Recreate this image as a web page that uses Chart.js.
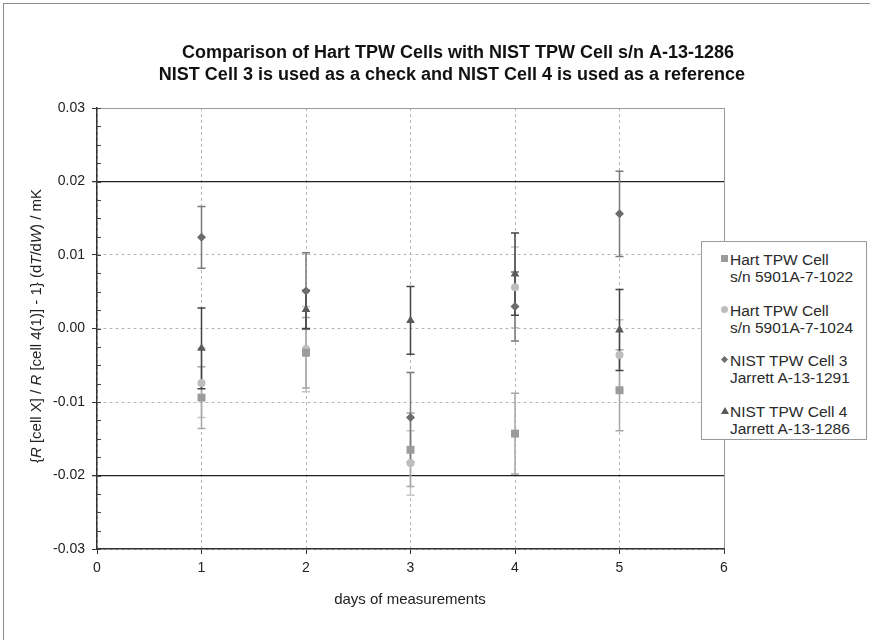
<!DOCTYPE html>
<html>
<head>
<meta charset="utf-8">
<script src="https://cdn.jsdelivr.net/npm/chart.js@4.4.0/dist/chart.umd.min.js"></script>
<style>
  html, body { margin: 0; padding: 0; background: #fff; }
  #wrap { position: relative; width: 870px; height: 640px; overflow: hidden; }
  #frame { position: absolute; left: 3px; top: 3px; width: 870px; height: 640px;
           border-left: 1px solid #8a8a8a; border-top: 1px solid #8a8a8a; pointer-events: none; }
  #legend { position: absolute; left: 701px; top: 241px; width: 166px; height: 199px;
            border: 1px solid #9a9a9a; background: #fff; box-sizing: border-box;
            font-family: "Liberation Sans", Arial, sans-serif; font-size: 15.5px; color: #2a2a2a; }
  .item { position: absolute; left: 28px; line-height: 17px; white-space: nowrap; }
  .mk { position: absolute; }
</style>
</head>
<body>
<div id="wrap">
  <canvas id="grafico" width="870" height="640"></canvas>
  <div id="frame"></div>
  <div id="legend"></div>
</div>
<script>
// Dados (dias de medição e desvios em mK)
const dias = [1, 2, 3, 4, 5];

const hart1022 = [-0.0094, -0.0033, -0.0165, -0.0143, -0.0084];
const hart1022Erro = [0.0042, 0.0048, 0.0050, 0.0055, 0.0055];

const hart1024 = [-0.0074, -0.0028, -0.0183, 0.0056, -0.0036];
const hart1024Erro = [0.0047, 0.0058, 0.0044, 0.0055, 0.0048];

const nist3 = [0.0124, 0.0051, -0.0121, 0.0030, 0.0156];
const nist3Erro = [0.0042, 0.0052, 0.0061, 0.0047, 0.0058];

const nist4 = [-0.0027, 0.0026, 0.0011, 0.0074, -0.0002];
const nist4Erro = [0.0055, 0.0026, 0.0046, 0.0056, 0.0055];

const nomesSeries = [
    ["Hart TPW Cell", "s/n 5901A-7-1022"],
    ["Hart TPW Cell", "s/n 5901A-7-1024"],
    ["NIST TPW Cell 3", "Jarrett A-13-1291"],
    ["NIST TPW Cell 4", "Jarrett A-13-1286"]
];

const linhasLimite = [0.02, -0.02];

const titulo = [
    "Comparison of Hart TPW Cells with NIST TPW Cell s/n A-13-1286",
    "NIST Cell 3 is used as a check and NIST Cell 4 is used as a reference"
];

const FONTE = '"Liberation Sans", Arial, sans-serif';

function pontos(valores) {
    return dias.map((d, i) => ({ x: d, y: valores[i] }));
}

function ehLimite(v) {
    return linhasLimite.some(l => Math.abs(v - l) < 1e-9);
}

// Barras de erro desenhadas com as escalas do próprio Chart.js
const barrasErro = {
    id: "barrasErro",
    beforeDatasetsDraw(chart) {
        const { ctx, scales: { x, y } } = chart;
        const lista = chart.data.datasets.slice().sort((a, b) => b.order - a.order);
        lista.forEach(ds => {
            ctx.save();
            ctx.strokeStyle = ds.corErro;
            ctx.lineWidth = 1.5;
            ds.data.forEach((p, j) => {
                const px = x.getPixelForValue(p.x);
                const topo = y.getPixelForValue(p.y + ds.erros[j]);
                const base = y.getPixelForValue(p.y - ds.erros[j]);
                ctx.beginPath();
                ctx.moveTo(px, topo);
                ctx.lineTo(px, base);
                ctx.moveTo(px - 4, topo);
                ctx.lineTo(px + 4, topo);
                ctx.moveTo(px - 4, base);
                ctx.lineTo(px + 4, base);
                ctx.stroke();
            });
            ctx.restore();
        });
    }
};

// Textos: título, títulos dos eixos e marcas menores do eixo y
const textos = {
    id: "textos",
    afterDraw(chart) {
        const { ctx, chartArea: area, scales: { y } } = chart;
        ctx.save();

        // marcas menores
        ctx.strokeStyle = "#444";
        ctx.lineWidth = 1;
        for (let v = -0.03; v <= 0.03 + 1e-9; v += 0.0025) {
            const py = Math.round(y.getPixelForValue(v)) + 0.5;
            ctx.beginPath();
            ctx.moveTo(area.left, py);
            ctx.lineTo(area.left + 4, py);
            ctx.stroke();
        }

        ctx.fillStyle = "#111";
        ctx.textAlign = "center";
        ctx.textBaseline = "middle";
        ctx.font = "bold 18px " + FONTE;
        ctx.fillText(titulo[0], 458, 53);
        ctx.fillText(titulo[1], 452, 75);

        ctx.fillStyle = "#222";
        ctx.font = "15px " + FONTE;
        ctx.fillText("days of measurements", 410, 600);

        // título do eixo y com partes em itálico
        const partes = [
            ["{", ""], ["R", "italic "], [" [cell X] / ", ""], ["R", "italic "],
            [" [cell 4(1)] - 1} (d", ""], ["T", "italic "], ["/d", ""], ["W", "italic "], [") / mK", ""]
        ];
        let total = 0;
        partes.forEach(p => { ctx.font = p[1] + "15px " + FONTE; total += ctx.measureText(p[0]).width; });
        ctx.translate(37, 326);
        ctx.rotate(-Math.PI / 2);
        ctx.textAlign = "left";
        let cx = -total / 2;
        partes.forEach(p => {
            ctx.font = p[1] + "15px " + FONTE;
            ctx.fillText(p[0], cx, 0);
            cx += ctx.measureText(p[0]).width;
        });
        ctx.restore();
    }
};

const datasets = [
    {
        label: "Hart 1022", data: pontos(hart1022), erros: hart1022Erro, order: 3,
        pointStyle: "rect", pointRadius: 5.6, backgroundColor: "#9b9b9b", borderColor: "#9b9b9b",
        corErro: "#a6a6a6"
    },
    {
        label: "Hart 1024", data: pontos(hart1024), erros: hart1024Erro, order: 4,
        pointStyle: "circle", pointRadius: 4, backgroundColor: "#bdbdbd", borderColor: "#bdbdbd",
        corErro: "#c6c6c6"
    },
    {
        label: "NIST 3", data: pontos(nist3), erros: nist3Erro, order: 2,
        pointStyle: "rectRot", pointRadius: 4.5, backgroundColor: "#6c6c6c", borderColor: "#6c6c6c",
        corErro: "#7a7a7a"
    },
    {
        label: "NIST 4", data: pontos(nist4), erros: nist4Erro, order: 1,
        pointStyle: "triangle", pointRadius: 5, backgroundColor: "#5a5a5a", borderColor: "#5a5a5a",
        corErro: "#444444"
    }
];

new Chart(document.getElementById("grafico"), {
    type: "scatter",
    data: { datasets: datasets },
    options: {
        responsive: false,
        animation: false,
        layout: { padding: { top: 108, right: 146, bottom: 0, left: 0 } },
        plugins: { legend: { display: false }, tooltip: { enabled: false }, title: { display: false } },
        elements: { point: { borderWidth: 0, hoverRadius: 0 } },
        scales: {
            x: {
                type: "linear", min: 0, max: 6,
                afterFit: s => { s.height = 91; },
                ticks: { stepSize: 1, color: "#222", font: { family: FONTE, size: 14 }, padding: 6 },
                grid: {
                    color: ctx => ctx.tick && ctx.tick.value === 6 ? "#9a9a9a" : "#b5b5b5",
                    tickColor: "#333", tickLength: 5, lineWidth: 1
                },
                border: {
                    color: "#333", width: 1.5,
                    dash: ctx => ctx.tick && ctx.tick.value === 6 ? [] : [3, 3]
                }
            },
            y: {
                min: -0.03, max: 0.03,
                afterFit: s => { s.width = 97; },
                ticks: {
                    stepSize: 0.01, color: "#222", font: { family: FONTE, size: 14 }, padding: 7,
                    callback: v => Math.abs(v) < 1e-9 ? "0.00" : v.toFixed(2)
                },
                grid: {
                    color: ctx => {
                        const v = ctx.tick ? ctx.tick.value : 0;
                        if (ehLimite(v)) return "#222";
                        if (Math.abs(v - 0.03) < 1e-9) return "#9a9a9a";
                        return "#b5b5b5";
                    },
                    lineWidth: ctx => ctx.tick && ehLimite(ctx.tick.value) ? 1.3 : 1,
                    tickColor: "#333", tickLength: 5
                },
                border: {
                    color: "#333", width: 1.5,
                    dash: ctx => {
                        const v = ctx.tick ? ctx.tick.value : 0;
                        return ehLimite(v) || Math.abs(v - 0.03) < 1e-9 ? [] : [3, 3];
                    }
                }
            }
        }
    },
    plugins: [barrasErro, textos]
});

// Legenda em HTML (sobrepõe a borda da área do gráfico, como no original)
const legenda = document.getElementById("legend");
const marcadores = [
    '<div class="mk" style="left:-9px;top:4px;width:7px;height:7px;background:#9b9b9b"></div>',
    '<div class="mk" style="left:-9px;top:4px;width:7px;height:7px;border-radius:50%;background:#bdbdbd"></div>',
    '<div class="mk" style="left:-8px;top:5px;width:5px;height:5px;transform:rotate(45deg);background:#6c6c6c"></div>',
    '<div class="mk" style="left:-9px;top:4px;width:0;height:0;border-left:4px solid transparent;border-right:4px solid transparent;border-bottom:7px solid #5a5a5a"></div>'
];
nomesSeries.forEach((n, i) => {
    const div = document.createElement("div");
    div.className = "item";
    div.style.top = (9 + i * 50.5) + "px";
    div.innerHTML = marcadores[i] + n[0] + "<br>" + n[1];
    legenda.appendChild(div);
});
</script>
</body>
</html>
